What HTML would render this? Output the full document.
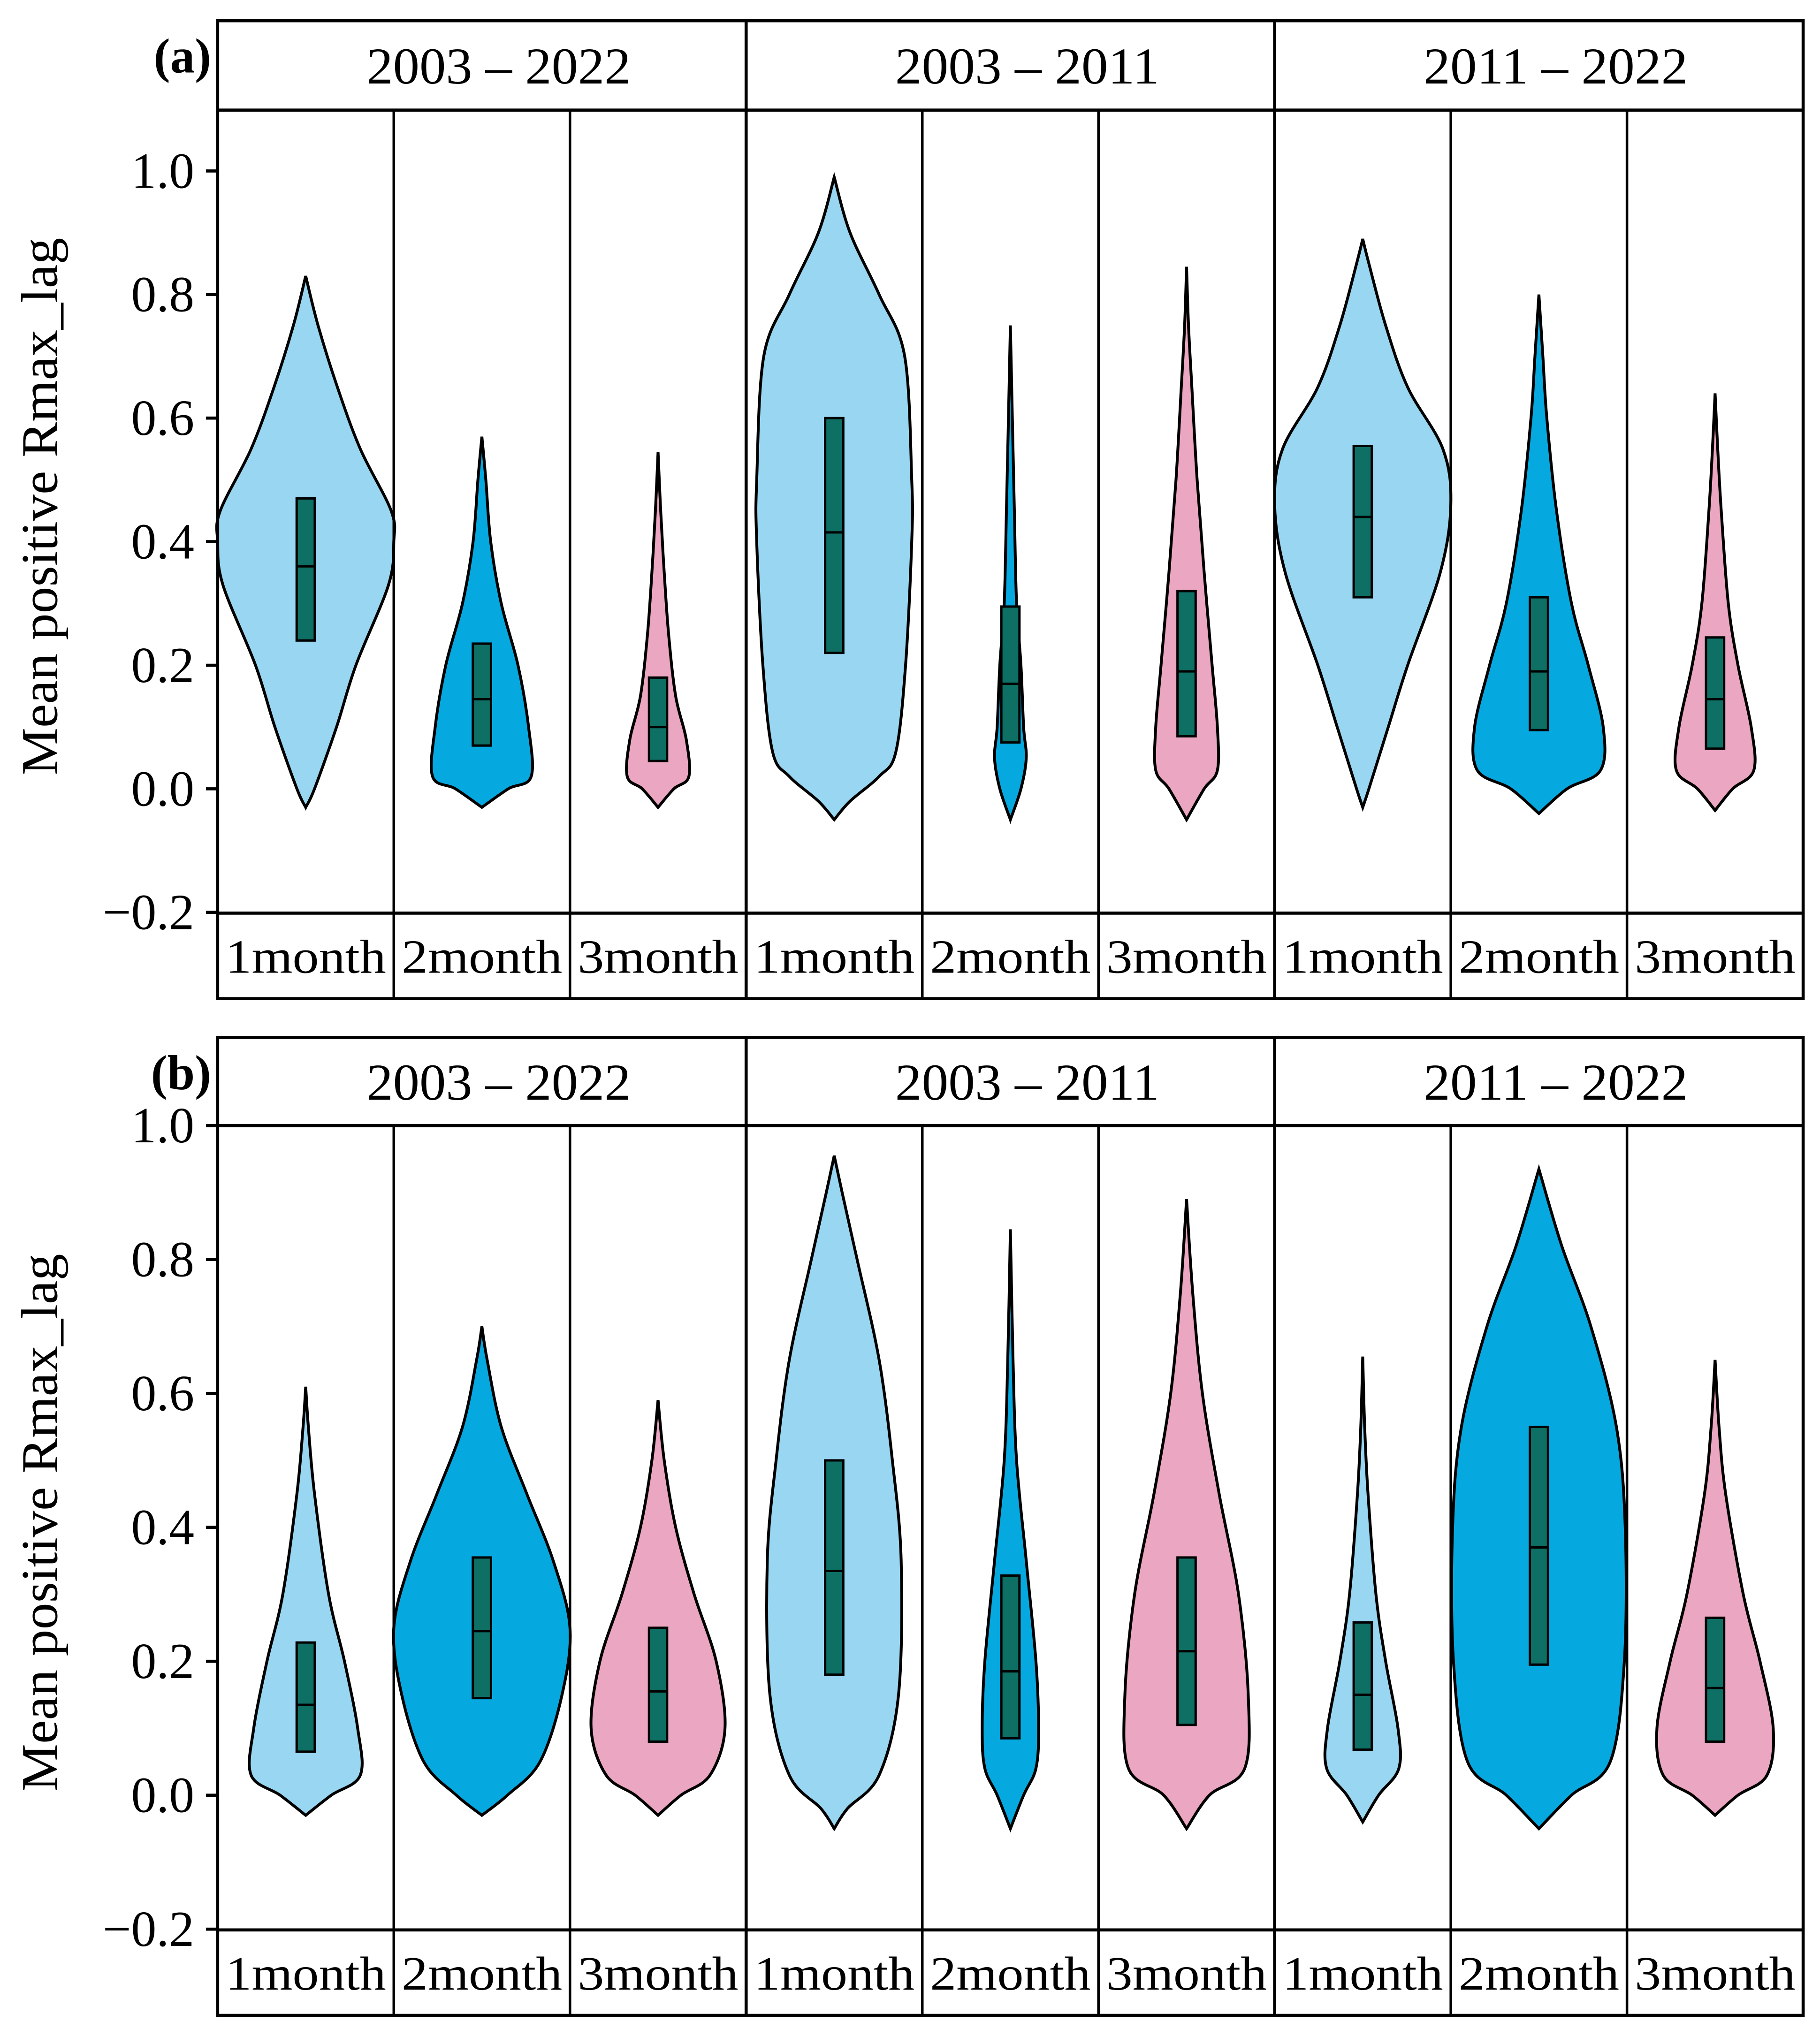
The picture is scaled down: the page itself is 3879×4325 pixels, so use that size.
<!DOCTYPE html>
<html><head><meta charset="utf-8"><style>
html,body{margin:0;padding:0;background:#fff}
svg{display:block}
text{font-family:"Liberation Serif",serif;fill:#000}
</style></head><body>
<svg id="chart" width="3879" height="4325" viewBox="0 0 1405 1566.5" preserveAspectRatio="none" xmlns="http://www.w3.org/2000/svg"></svg>
<script>
const periods = ["2003 - 2022", "2003 - 2011", "2011 - 2022"];
const lags = ["1month", "2month", "3month"];
const yTicks = [-0.2, 0.0, 0.2, 0.4, 0.6, 0.8, 1.0];
const yTickLabels = ["\u22120.2", "0.0", "0.2", "0.4", "0.6", "0.8", "1.0"];
// box stats: [q1, median, q3] per violin, panel a then b (period-major, lag-minor)
const boxA = [[0.24,0.36,0.47],[0.07,0.145,0.235],[0.045,0.10,0.18],[0.22,0.415,0.60],[0.075,0.17,0.295],[0.085,0.19,0.32],[0.31,0.44,0.555],[0.095,0.19,0.31],[0.065,0.145,0.245]];
const boxB = [[0.065,0.135,0.228],[0.145,0.245,0.355],[0.08,0.155,0.25],[0.18,0.335,0.50],[0.085,0.185,0.328],[0.105,0.215,0.355],[0.068,0.15,0.258],[0.195,0.37,0.55],[0.08,0.16,0.265]];
// violin extents [min, max]
const rangeA = [[-0.03,0.83],[-0.03,0.57],[-0.03,0.545],[-0.05,0.99],[-0.05,0.75],[-0.05,0.845],[-0.03,0.89],[-0.04,0.80],[-0.035,0.64]];
const rangeB = [[-0.03,0.61],[-0.03,0.70],[-0.03,0.59],[-0.05,0.955],[-0.05,0.845],[-0.05,0.89],[-0.04,0.655],[-0.05,0.935],[-0.03,0.65]];
// density knots: value levels and relative half-widths (0..1)
const densA = [
 [[0,0.1],[0.1,0.35],[0.2,0.57],[0.33,0.94],[0.4,1],[0.45,0.97],[0.55,0.62],[0.65,0.36],[0.75,0.14]],
 [[0,0.3],[0.02,0.56],[0.1,0.53],[0.2,0.41],[0.3,0.22],[0.4,0.1],[0.5,0.045]],
 [[0,0.18],[0.02,0.35],[0.08,0.32],[0.15,0.2],[0.25,0.12],[0.35,0.07],[0.45,0.03]],
 [[-0.02,0.18],[0.02,0.51],[0.06,0.7],[0.2,0.81],[0.4,0.88],[0.5,0.88],[0.7,0.8],[0.8,0.51],[0.9,0.18]],
 [[0,0.12],[0.05,0.18],[0.1,0.15],[0.2,0.12],[0.3,0.07],[0.45,0.045],[0.6,0.022]],
 [[0,0.2],[0.03,0.35],[0.1,0.35],[0.2,0.29],[0.35,0.2],[0.5,0.12],[0.65,0.06],[0.75,0.022]],
 [[0,0.07],[0.1,0.29],[0.2,0.51],[0.35,0.88],[0.46,1],[0.55,0.91],[0.65,0.51],[0.75,0.26],[0.85,0.07]],
 [[0,0.32],[0.03,0.7],[0.1,0.73],[0.2,0.56],[0.3,0.37],[0.45,0.2],[0.6,0.09],[0.7,0.045]],
 [[0,0.2],[0.03,0.44],[0.1,0.41],[0.2,0.26],[0.3,0.15],[0.45,0.07],[0.55,0.03]]
];
const densB = [
 [[0,0.29],[0.03,0.62],[0.1,0.59],[0.2,0.44],[0.3,0.26],[0.45,0.1],[0.55,0.03]],
 [[0,0.29],[0.05,0.66],[0.15,0.91],[0.25,1],[0.35,0.81],[0.45,0.51],[0.55,0.22],[0.65,0.06]],
 [[0,0.26],[0.03,0.59],[0.1,0.76],[0.2,0.66],[0.3,0.41],[0.4,0.2],[0.5,0.07]],
 [[-0.02,0.15],[0.03,0.51],[0.15,0.73],[0.35,0.76],[0.5,0.66],[0.65,0.51],[0.8,0.26],[0.9,0.09]],
 [[0,0.15],[0.04,0.29],[0.1,0.32],[0.2,0.29],[0.35,0.18],[0.5,0.07],[0.65,0.03]],
 [[0,0.26],[0.04,0.66],[0.15,0.7],[0.3,0.59],[0.45,0.37],[0.6,0.18],[0.75,0.07]],
 [[0,0.18],[0.04,0.41],[0.1,0.4],[0.2,0.26],[0.3,0.15],[0.45,0.06],[0.55,0.022]],
 [[0,0.37],[0.05,0.81],[0.2,0.97],[0.4,0.98],[0.55,0.88],[0.7,0.59],[0.82,0.26]],
 [[0,0.26],[0.03,0.59],[0.1,0.66],[0.2,0.51],[0.3,0.32],[0.45,0.12],[0.55,0.045]]
];
const fills = ["#99D6F1", "#05A9E0", "#EBA6C1"];

const NS = "http://www.w3.org/2000/svg";
const svg = document.getElementById("chart");
function mk(tag, attrs, parent) {
  const e = document.createElementNS(NS, tag);
  for (const k in attrs) e.setAttribute(k, attrs[k]);
  (parent || svg).appendChild(e);
  return e;
}
const L = 168, R = 1392, colW = (R - L) / 9;
const panels = [
  {label: "(a)", top: 16, hdr: 85, bot: 705, xs: 771, y0: 609, unit: 477, box: boxA, rng: rangeA, dens: densA},
  {label: "(b)", top: 801, hdr: 869, bot: 1490, xs: 1556, y0: 1386, unit: 517, box: boxB, rng: rangeB, dens: densB}
];
function catmull(pts) {
  let d = "M" + pts[0][0].toFixed(2) + "," + pts[0][1].toFixed(2);
  for (let i = 0; i < pts.length - 1; i++) {
    const p0 = pts[Math.max(0, i - 1)], p1 = pts[i], p2 = pts[i + 1], p3 = pts[Math.min(pts.length - 1, i + 2)];
    const c1 = [p1[0] + (p2[0] - p0[0]) / 6, p1[1] + (p2[1] - p0[1]) / 6];
    const c2 = [p2[0] - (p3[0] - p1[0]) / 6, p2[1] - (p3[1] - p1[1]) / 6];
    d += "C" + c1.map(v=>v.toFixed(2)).join(",") + " " + c2.map(v=>v.toFixed(2)).join(",") + " " + p2[0].toFixed(2) + "," + p2[1].toFixed(2);
  }
  return d;
}
panels.forEach((p, pi) => {
  const g = mk("g", {});
  
  
  const yS = v => p.y0 - v * p.unit;
  for (let i = 0; i < 9; i++) {
    const cx = L + colW * (i + 0.5), hwMax = colW / 2;
    const [mn, mx] = p.rng[i];
    const right = [[cx, yS(mn)]].concat(p.dens[i].map(k => [cx + k[1] * hwMax, yS(k[0])])).concat([[cx, yS(mx)]]);
    const left = right.slice().reverse().map(q => [2 * cx - q[0], q[1]]);
    const d = catmull(right) + catmull(left).replace(/^M[^C]*/, "") + "Z";
    const v = mk("path", {d: d, fill: fills[i % 3], stroke: "#000", "stroke-width": 2.2}, g);
    
    
    const [q1, md, q3] = p.box[i];
    const b = mk("rect", {x: cx - 7, y: yS(q3), width: 14, height: yS(q1) - yS(q3), fill: "#0E6F64", stroke: "#000", "stroke-width": 1.8}, g);
    
    
    const m = mk("line", {x1: cx - 7, x2: cx + 7, y1: yS(md), y2: yS(md), stroke: "#000", "stroke-width": 1.8}, g);
    
    
  }
  const fr = mk("rect", {x: L, y: p.top, width: R - L, height: p.xs - p.top, fill: "none", stroke: "#000", "stroke-width": 2.4}, g);
  
  
  mk("line", {x1: L, x2: R, y1: p.hdr, y2: p.hdr, stroke: "#000", "stroke-width": 2.4}, g);
  mk("line", {x1: L, x2: R, y1: p.bot, y2: p.bot, stroke: "#000", "stroke-width": 2.4}, g);
  for (let i = 1; i < 9; i++) {
    const x = L + colW * i;
    mk("line", {x1: x, x2: x, y1: i % 3 === 0 ? p.top : p.hdr, y2: p.xs, stroke: "#000", "stroke-width": i % 3 === 0 ? 2.4 : 2}, g);
  }
  periods.forEach((s, j) => {
    const t = mk("text", {x: L + colW * (3 * j + 1.5) + 13, y: (p.top + p.hdr) / 2 + 14, "text-anchor": "middle", "font-size": 40, textLength: 204, lengthAdjust: "spacingAndGlyphs"}, g);
    t.textContent = s.replace(" - ", " \u2013 ");
    
    
  });
  for (let i = 0; i < 9; i++) {
    const t = mk("text", {x: L + colW * (i + 0.5), y: (p.bot + p.xs) / 2 + 13, "text-anchor": "middle", "font-size": 37, textLength: 124, lengthAdjust: "spacingAndGlyphs"}, g);
    t.textContent = lags[i % 3];
    
    
  }
  yTicks.forEach((v, k) => {
    const y = yS(v);
    mk("line", {x1: L - 9, x2: L, y1: y, y2: y, stroke: "#000", "stroke-width": 2.4}, g);
    const t = mk("text", {x: L - 18, y: y + 13, "text-anchor": "end", "font-size": 39}, g);
    t.textContent = yTickLabels[k];
    
    
  });
  const yl = mk("text", {x: 0, y: 0, "text-anchor": "middle", "font-size": 40, textLength: 415, lengthAdjust: "spacingAndGlyphs", transform: "translate(44," + ((p.hdr + p.bot) / 2 - 4) + ") rotate(-90)"}, g);
  yl.textContent = "Mean positive Rmax_lag";
  
  
  const pl = mk("text", {x: 163, y: p.top + 40, "text-anchor": "end", "font-size": 38, "font-weight": "bold"}, g);
  pl.textContent = p.label;
  
  
});
</script>
</body></html>
